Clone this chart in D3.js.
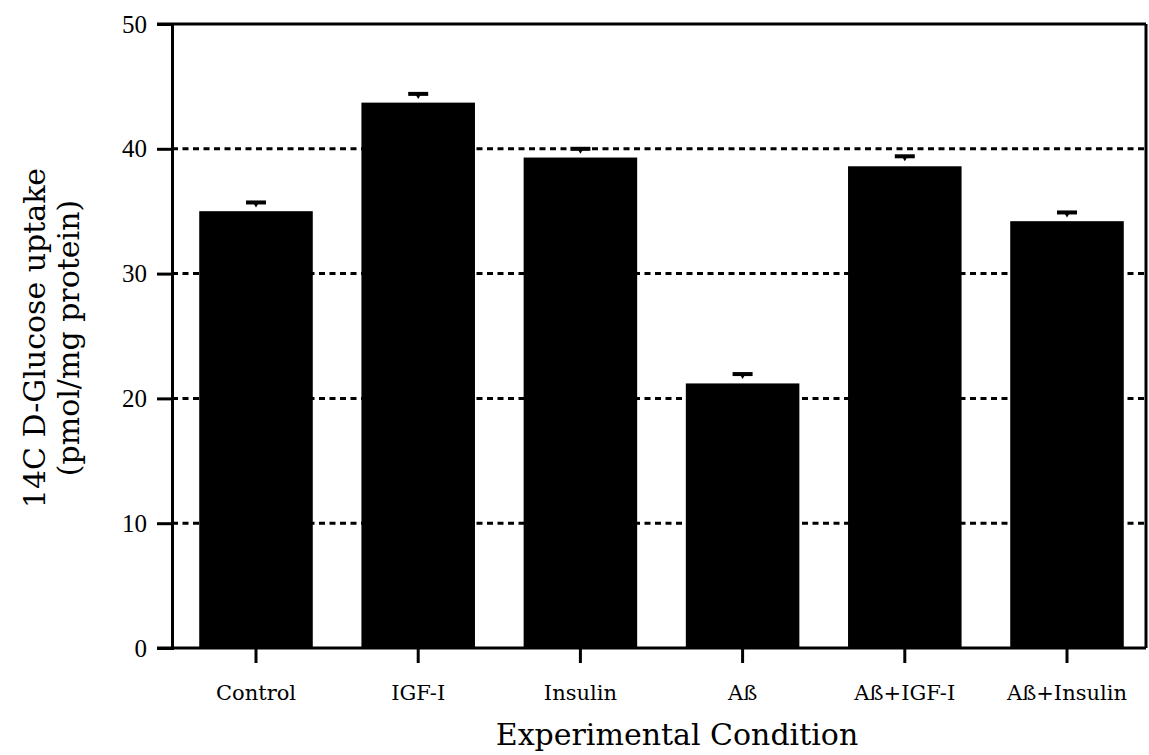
<!DOCTYPE html>
<html>
<head>
<meta charset="utf-8">
<script src="https://cdn.jsdelivr.net/npm/d3@7/dist/d3.min.js"></script>
<style>
  html, body { margin: 0; padding: 0; background: #fff; }
  svg { display: block; }
</style>
</head>
<body>
<svg id="chart" width="1149" height="755"></svg>
<script>
// ---- data ----
const categories = ["Control", "IGF-I", "Insulin", "Aß", "Aß+IGF-I", "Aß+Insulin"];
const uptake = [35.0, 43.7, 39.3, 21.2, 38.6, 34.2];
const sem = [0.7, 0.7, 0.7, 0.75, 0.8, 0.7];
const yTicks = [0, 10, 20, 30, 40, 50];
const gridValues = [10, 20, 30, 40];
const yTitle = ["14C D-Glucose uptake", "(pmol/mg protein)"];
const xTitle = "Experimental Condition";

// ---- layout ----
const svg = d3.select("#chart");
const frame = { left: 172, right: 1146, top: 24, bottom: 648 };

const y = d3.scaleLinear().domain([0, 50]).range([frame.bottom, frame.top]);
const x = d3.scaleBand().domain(categories)
  .range([174.9, 1148.1]).paddingInner(0.3).paddingOuter(0.15);

// gridlines (dashed)
svg.append("g").selectAll("line").data(gridValues).join("line")
  .attr("x1", frame.left).attr("x2", frame.right)
  .attr("y1", d => y(d)).attr("y2", d => y(d))
  .attr("stroke", "#000").attr("stroke-width", 3)
  .attr("stroke-dasharray", "6,4.5");

// bars
svg.append("g").selectAll("rect").data(categories).join("rect")
  .attr("x", d => x(d))
  .attr("width", x.bandwidth())
  .attr("y", (d, i) => y(uptake[i]))
  .attr("height", (d, i) => y(0) - y(uptake[i]))
  .attr("fill", "#000");

// error bars (cap + small nub)
const eg = svg.append("g");
categories.forEach((c, i) => {
  const cx = x(c) + x.bandwidth() / 2;
  const cy = y(uptake[i] + sem[i]);
  eg.append("line")
    .attr("x1", cx - 10).attr("x2", cx + 10)
    .attr("y1", cy).attr("y2", cy)
    .attr("stroke", "#000").attr("stroke-width", 4);
  eg.append("path")
    .attr("d", `M${cx - 3},${cy} L${cx + 3},${cy} L${cx},${cy + 5} Z`)
    .attr("fill", "#000");
});

// frame: top & right borders
svg.append("line").attr("x1", frame.left - 15).attr("x2", frame.right)
  .attr("y1", frame.top).attr("y2", frame.top)
  .attr("stroke", "#000").attr("stroke-width", 3);
svg.append("line").attr("x1", frame.right).attr("x2", frame.right)
  .attr("y1", frame.top).attr("y2", frame.bottom)
  .attr("stroke", "#000").attr("stroke-width", 3);

// y axis
const yAxis = d3.axisLeft(y).tickValues(yTicks).tickSize(15).tickPadding(10)
  .tickFormat(d3.format("d"));
const gy = svg.append("g").attr("transform", `translate(${frame.left},0)`).call(yAxis);
gy.select(".domain").attr("stroke-width", 3);
gy.selectAll(".tick line").attr("stroke-width", 3);
gy.selectAll(".tick text")
  .attr("font-family", "'Liberation Serif', serif")
  .attr("font-size", 25).attr("fill", "#000");

// x axis
const xAxis = d3.axisBottom(x).tickSize(15).tickSizeOuter(0).tickPadding(22);
const gx = svg.append("g").attr("transform", `translate(0,${frame.bottom})`).call(xAxis);
gx.select(".domain").remove();
gx.selectAll(".tick line").attr("stroke-width", 3);
gx.selectAll(".tick text")
  .attr("font-family", "'DejaVu Serif', serif")
  .attr("font-size", 21).attr("fill", "#000");
svg.append("line").attr("x1", frame.left - 15).attr("x2", frame.right)
  .attr("y1", frame.bottom).attr("y2", frame.bottom)
  .attr("stroke", "#000").attr("stroke-width", 3);

// titles
svg.append("text").attr("x", 677).attr("y", 745)
  .attr("text-anchor", "middle")
  .attr("font-family", "'DejaVu Serif', serif").attr("font-size", 30)
  .text(xTitle);

const yt = svg.append("text")
  .attr("transform", "translate(0,338) rotate(-90)")
  .attr("text-anchor", "middle")
  .attr("font-family", "'DejaVu Serif', serif").attr("font-size", 30);
yt.append("tspan").attr("x", 0).attr("y", 45).text(yTitle[0]);
yt.append("tspan").attr("x", 0).attr("y", 79).text(yTitle[1]);
</script>
</body>
</html>
